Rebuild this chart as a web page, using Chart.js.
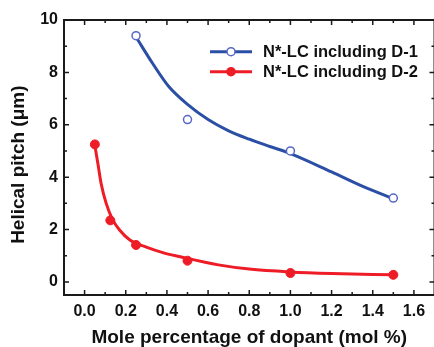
<!DOCTYPE html>
<html><head><meta charset="utf-8">
<script src="https://cdn.jsdelivr.net/npm/chart.js@4/dist/chart.umd.min.js"></script>
<style>
html,body{margin:0;padding:0;overflow:hidden;background:#fff;width:434px;height:347px}
#wrap{width:440px;height:347px}
canvas{display:block}
</style></head>
<body><div id="wrap"><canvas id="c" width="440" height="347"></canvas></div>
<script>
// measured data points
const d1X = [0.25, 0.5, 1.0, 1.5];
const d1Y = [9.4, 6.2, 5.0, 3.2];
const d2X = [0.05, 0.125, 0.25, 0.5, 1.0, 1.5];
const d2Y = [5.25, 2.35, 1.41, 0.81, 0.34, 0.27];
// fitted curves
const fit1X = [0.25, 0.33, 0.41, 0.5, 0.6, 0.7, 0.8, 0.9, 1.0, 1.2, 1.36, 1.5];
const fit1Y = [9.35, 8.35, 7.45, 6.78, 6.2, 5.77, 5.45, 5.17, 4.9, 4.2, 3.62, 3.18];
const fit2X = [0.05, 0.065, 0.08, 0.105, 0.135, 0.17, 0.22, 0.3, 0.38, 0.46, 0.65, 0.8, 1.0, 1.2, 1.5];
const fit2Y = [5.2, 4.5, 3.77, 3.0, 2.4, 1.98, 1.6, 1.33, 1.12, 0.97, 0.65, 0.49, 0.38, 0.32, 0.27];
// axis ticks
const xTicks = [0, 0.2, 0.4, 0.6, 0.8, 1.0, 1.2, 1.4, 1.6];
const yTicks = [0, 2, 4, 6, 8, 10];
const seriesNames = ['N*-LC including D-1', 'N*-LC including D-2'];
const xTitle = 'Mole percentage of dopant (mol %)';
const yTitle = 'Helical pitch (\u03BCm)';

const BLUE = '#2c4fa6', BLUE_MK = '#5668c6', RED = '#ee1c26';
const FAM = '"Liberation Sans", Arial, Helvetica, sans-serif';
const pts = (xs, ys) => xs.map((x, i) => ({x, y: ys[i]}));

const framePlugin = {
  id: 'frame',
  afterDatasetsDraw(chart) {
    const {ctx, chartArea: a, scales: {x, y}} = chart;
    ctx.save();
    ctx.strokeStyle = '#1a1a1a';
    ctx.lineWidth = 2;
    ctx.strokeRect(a.left, a.top, a.right - a.left, a.bottom - a.top);
    ctx.lineWidth = 1.5;
    const tick = (p, len, horiz) => {
      ctx.beginPath();
      if (horiz) {
        ctx.moveTo(p, a.bottom); ctx.lineTo(p, a.bottom - len);
        ctx.moveTo(p, a.top); ctx.lineTo(p, a.top + len);
      } else {
        ctx.moveTo(a.left, p); ctx.lineTo(a.left + len, p);
        ctx.moveTo(a.right, p); ctx.lineTo(a.right - len, p);
      }
      ctx.stroke();
    };
    xTicks.forEach((v, i) => {
      tick(x.getPixelForValue(v), 5, true);
      if (i < xTicks.length - 1) tick(x.getPixelForValue((v + xTicks[i + 1]) / 2), 3, true);
    });
    yTicks.forEach((v, i) => {
      tick(y.getPixelForValue(v), 5, false);
      if (i < yTicks.length - 1) tick(y.getPixelForValue((v + yTicks[i + 1]) / 2), 3, false);
    });
    ctx.restore();
  },
  afterDraw(chart) {
    const {ctx, chartArea: a} = chart;
    const items = [
      {line: BLUE, fill: '#fff', border: BLUE_MK},
      {line: RED, fill: RED, border: RED}
    ];
    ctx.save();
    items.forEach((it, i) => {
      const yy = a.top + 31.7 + i * 20;
      const x0 = a.left + 146, x1 = a.left + 188;
      ctx.strokeStyle = it.line; ctx.lineWidth = 3;
      ctx.beginPath(); ctx.moveTo(x0, yy); ctx.lineTo(x1, yy); ctx.stroke();
      ctx.beginPath(); ctx.arc((x0 + x1) / 2, yy, 4, 0, Math.PI * 2);
      ctx.fillStyle = it.fill; ctx.fill();
      ctx.lineWidth = 1.5; ctx.strokeStyle = it.border; ctx.stroke();
      ctx.fillStyle = '#111';
      ctx.font = 'bold 16.5px ' + FAM;
      ctx.textBaseline = 'middle'; ctx.textAlign = 'left';
      ctx.fillText(seriesNames[i], a.left + 199, yy + 1);
    });
    ctx.restore();
  }
};

const tickFont = {family: FAM, size: 16, weight: 'bold'};
const titleFont = {family: FAM, size: 19, weight: 'bold', lineHeight: 1};

new Chart(document.getElementById('c'), {
  type: 'scatter',
  data: {datasets: [
    {label: seriesNames[0], data: pts(d1X, d1Y), showLine: false, pointRadius: 4, pointBorderWidth: 1.5,
     pointBorderColor: BLUE_MK, pointBackgroundColor: '#fff', order: 0},
    {label: 'fit1', data: pts(fit1X, fit1Y), showLine: true, borderColor: BLUE, borderWidth: 3,
     pointRadius: 0, cubicInterpolationMode: 'monotone', order: 1},
    {label: seriesNames[1], data: pts(d2X, d2Y), showLine: false, pointRadius: 4.5, pointBorderWidth: 1,
     pointBorderColor: RED, pointBackgroundColor: RED, order: 0},
    {label: 'fit2', data: pts(fit2X, fit2Y), showLine: true, borderColor: RED, borderWidth: 3,
     pointRadius: 0, cubicInterpolationMode: 'monotone', order: 1}
  ]},
  options: {
    responsive: false, animation: false, devicePixelRatio: 1,
    layout: {padding: {top: 20, right: 3, left: 0, bottom: 0}},
    plugins: {legend: {display: false}, tooltip: {enabled: false}},
    scales: {
      x: {
        type: 'linear', min: -0.1, max: 1.7,
        afterBuildTicks: s => { s.ticks = xTicks.map(v => ({value: v})); },
        afterFit: s => { s.height = 52; },
        grid: {display: false, drawTicks: false}, border: {display: false},
        ticks: {padding: 7, font: tickFont, color: '#111', maxRotation: 0, autoSkip: false,
                callback: v => Number(v).toFixed(1)},
        title: {display: true, text: xTitle, font: titleFont, color: '#111', padding: 0}
      },
      y: {
        type: 'linear', min: -0.5, max: 10,
        afterBuildTicks: s => { s.ticks = yTicks.map(v => ({value: v})); },
        afterFit: s => { s.width = 64; },
        grid: {display: false, drawTicks: false}, border: {display: false},
        ticks: {padding: 6, font: tickFont, color: '#111', autoSkip: false,
                callback: v => String(v)},
        title: {display: true, text: yTitle + '\u00A0\u00A0\u2009', font: titleFont, color: '#111', padding: {top: 9, bottom: 0}}
      }
    }
  },
  plugins: [framePlugin]
});
</script>
</body></html>
